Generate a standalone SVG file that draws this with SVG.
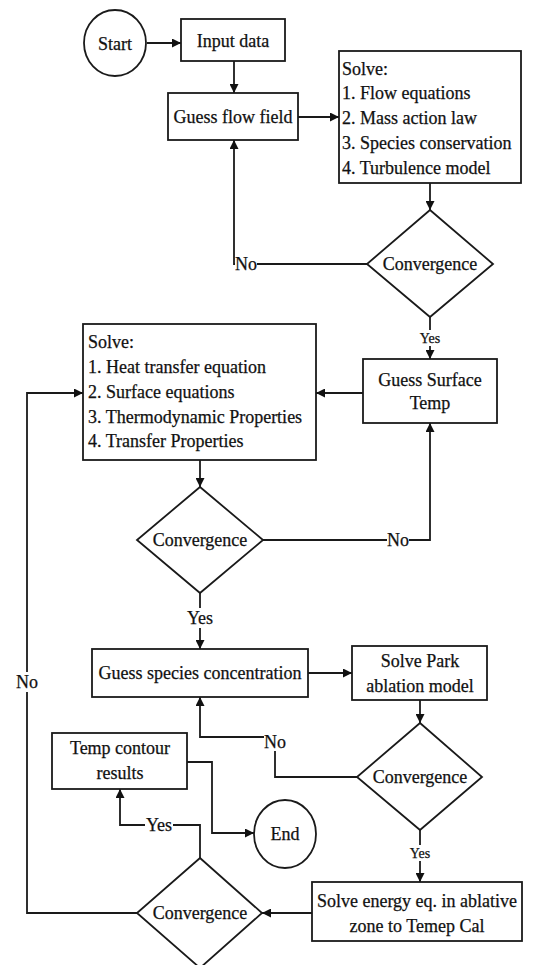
<svg xmlns="http://www.w3.org/2000/svg" width="537" height="965" viewBox="0 0 537 965">
<style>
.n{fill:#fff;stroke:#1a1a1a;stroke-width:1.8}
text{font-family:'Liberation Serif','Times New Roman',Times,serif;font-size:18px;fill:#111;stroke:#111;stroke-width:0.25}
.c{text-anchor:middle}
.s{font-size:14px}
.e{fill:none;stroke:#1a1a1a;stroke-width:1.8}
.lb{fill:#fff}
</style>
<defs>
<marker id="a" viewBox="0 0 10 10" refX="10" refY="5" markerWidth="9" markerHeight="9" markerUnits="userSpaceOnUse" orient="auto"><path d="M0,0 L10,5 L0,10 z" fill="#111"/></marker>
</defs>
<rect width="537" height="965" fill="#fff"/>
<g id="connectors">
<path class="e" d="M147,43 H181" marker-end="url(#a)"/>
<path class="e" d="M234,61 V93" marker-end="url(#a)"/>
<path class="e" d="M298,117 H339" marker-end="url(#a)"/>
<path class="e" d="M430,183 V210" marker-end="url(#a)"/>
<path class="e" d="M367,264 H234 V140" marker-end="url(#a)"/>
<path class="e" d="M430,317 V359" marker-end="url(#a)"/>
<path class="e" d="M363,393 H316" marker-end="url(#a)"/>
<path class="e" d="M200,460 V487" marker-end="url(#a)"/>
<path class="e" d="M263,540 H430 V423" marker-end="url(#a)"/>
<path class="e" d="M200,593 V649" marker-end="url(#a)"/>
<path class="e" d="M308,673 H352" marker-end="url(#a)"/>
<path class="e" d="M420,700 V723" marker-end="url(#a)"/>
<path class="e" d="M357,777 H275 V737 H200 V697" marker-end="url(#a)"/>
<path class="e" d="M420,830 V882" marker-end="url(#a)"/>
<path class="e" d="M312,913 H262" marker-end="url(#a)"/>
<path class="e" d="M137,913 H27 V393 H83" marker-end="url(#a)"/>
<path class="e" d="M200,858 V825 H120 V789" marker-end="url(#a)"/>
<path class="e" d="M187,762 H212 V833 H254" marker-end="url(#a)"/>
<rect class="lb" x="235" y="254" width="22" height="20"/>
<text class="c" x="246" y="270">No</text>
<rect class="lb" x="419" y="330" width="22" height="16"/>
<text class="c s" x="430" y="343">Yes</text>
<rect class="lb" x="387" y="530" width="22" height="20"/>
<text class="c" x="398" y="546">No</text>
<rect class="lb" x="186" y="608" width="28" height="20"/>
<text class="c" x="200" y="624">Yes</text>
<rect class="lb" x="264" y="733" width="22" height="18"/>
<text class="c" x="275" y="748">No</text>
<rect class="lb" x="16" y="672" width="22" height="20"/>
<text class="c" x="27" y="688">No</text>
<rect class="lb" x="409" y="845" width="22" height="16"/>
<text class="c s" x="420" y="858">Yes</text>
<rect class="lb" x="145" y="815" width="28" height="20"/>
<text class="c" x="159" y="831">Yes</text>
</g>
<g id="start">
<ellipse class="n" cx="115" cy="43" rx="31" ry="33"/>
<text class="c" x="115" y="50">Start</text>
</g>
<g id="input">
<rect class="n" x="181" y="19" width="104" height="42"/>
<text class="c" x="233" y="47">Input data</text>
</g>
<g id="guessflow">
<rect class="n" x="168" y="93" width="130" height="47"/>
<text class="c" x="233" y="123">Guess flow field</text>
</g>
<g id="solve1">
<rect class="n" x="339" y="51" width="182" height="132"/>
<text x="342" y="75">Solve:</text>
<text x="342" y="99">1. Flow equations</text>
<text x="342" y="124">2. Mass action law</text>
<text x="342" y="149">3. Species conservation</text>
<text x="342" y="174">4. Turbulence model</text>
</g>
<g id="conv1">
<polygon class="n" points="430,210 493,264 430,317 367,264"/>
<text class="c" x="430" y="270">Convergence</text>
</g>
<g id="surftemp">
<rect class="n" x="363" y="359" width="134" height="64"/>
<text class="c" x="430" y="386">Guess Surface</text>
<text class="c" x="430" y="409">Temp</text>
</g>
<g id="solve2">
<rect class="n" x="83" y="324" width="233" height="136"/>
<text x="88" y="348">Solve:</text>
<text x="88" y="373">1. Heat transfer equation</text>
<text x="88" y="398">2. Surface equations</text>
<text x="88" y="423">3. Thermodynamic Properties</text>
<text x="88" y="447">4. Transfer Properties</text>
</g>
<g id="conv2">
<polygon class="n" points="200,487 263,540 200,593 137,540"/>
<text class="c" x="200" y="546">Convergence</text>
</g>
<g id="species">
<rect class="n" x="92" y="649" width="216" height="48"/>
<text class="c" x="200" y="679">Guess species concentration</text>
</g>
<g id="park">
<rect class="n" x="352" y="646" width="135" height="54"/>
<text class="c" x="420" y="667">Solve Park</text>
<text class="c" x="420" y="692">ablation model</text>
</g>
<g id="conv3">
<polygon class="n" points="420,723 482,777 420,830 357,777"/>
<text class="c" x="420" y="783">Convergence</text>
</g>
<g id="tempcontour">
<rect class="n" x="52" y="733" width="135" height="56"/>
<text class="c" x="120" y="754">Temp contour</text>
<text class="c" x="120" y="779">results</text>
</g>
<g id="end">
<ellipse class="n" cx="285" cy="834" rx="31" ry="34"/>
<text class="c" x="285" y="840">End</text>
</g>
<g id="energy">
<rect class="n" x="312" y="882" width="210" height="59"/>
<text class="c" x="417" y="907">Solve energy eq. in ablative</text>
<text class="c" x="417" y="932">zone to Temep Cal</text>
</g>
<g id="conv4">
<polygon class="n" points="200,858 262,913 200,968 137,913"/>
<text class="c" x="200" y="919">Convergence</text>
</g>
</svg>
